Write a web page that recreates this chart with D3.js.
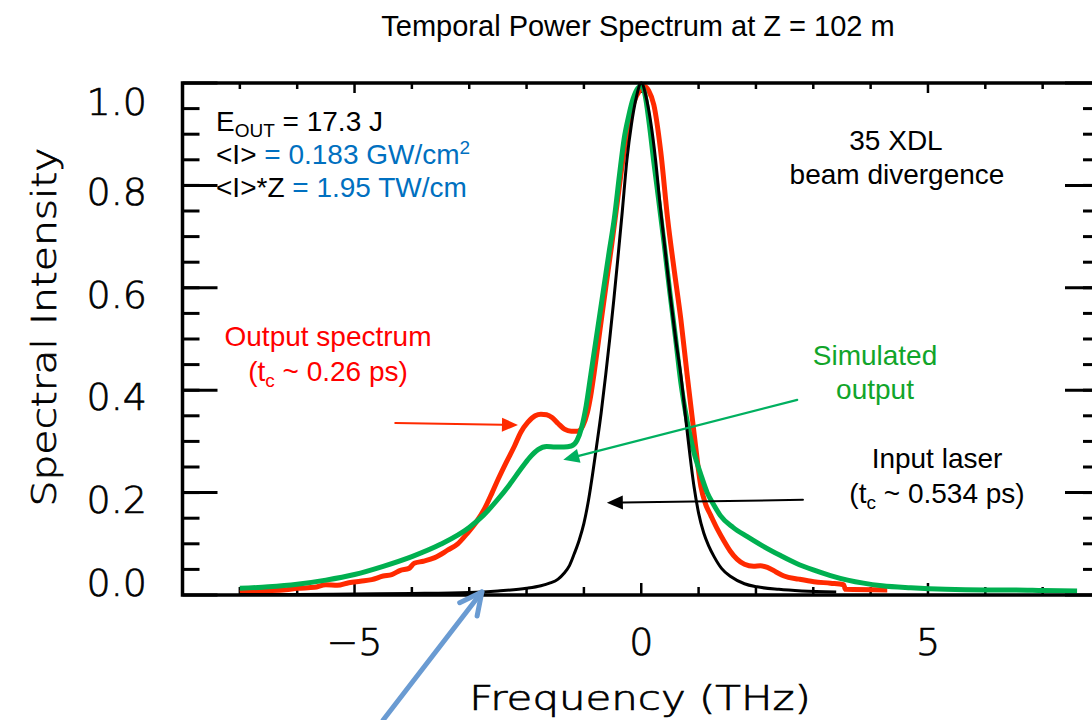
<!DOCTYPE html>
<html>
<head>
<meta charset="utf-8">
<script src="https://d3js.org/d3.v7.min.js"></script>
<style>
    body { margin: 0; background: white; }
    text { font-family: "Liberation Sans", Arial, sans-serif; }
    .tick-label, .axis-title { font-family: "DejaVu Sans", sans-serif; font-weight: 200; stroke: black; stroke-width: 0.7px; }
</style>
</head>
<body>
<svg id="chart" width="1092" height="720"></svg>
<script>
// input laser (black)
const inputFreq = [-7.0, -6.0, -5.0, -4.0, -3.0, -2.5, -2.0, -1.75, -1.6, -1.45, -1.35, -1.25, -1.17, -1.08, -1.0, -0.92, -0.85, -0.78, -0.7, -0.62, -0.55, -0.48, -0.41, -0.33, -0.25, -0.17, -0.09, 0.0, 0.09, 0.17, 0.25, 0.33, 0.41, 0.5, 0.6, 0.69, 0.8, 0.92, 1.0, 1.09, 1.18, 1.27, 1.4, 1.56, 1.8, 2.02, 2.4, 2.8, 3.4];
const inputInt = [0.001, 0.001, 0.002, 0.003, 0.005, 0.008, 0.013, 0.018, 0.023, 0.031, 0.042, 0.058, 0.08, 0.108, 0.14, 0.185, 0.235, 0.29, 0.355, 0.43, 0.5, 0.575, 0.655, 0.75, 0.85, 0.92, 0.97, 1.0, 0.97, 0.92, 0.85, 0.76, 0.68, 0.59, 0.5, 0.43, 0.32, 0.212, 0.16, 0.121, 0.095, 0.075, 0.052, 0.036, 0.022, 0.016, 0.011, 0.008, 0.006];

// measured output spectrum (red)
const outputFreq = [-7.0, -6.6, -6.2, -6.0, -5.7, -5.5, -5.3, -5.1, -4.9, -4.7, -4.5, -4.35, -4.2, -4.05, -3.96, -3.8, -3.6, -3.37, -3.2, -3.03, -2.88, -2.74, -2.6, -2.5, -2.35, -2.21, -2.1, -1.98, -1.85, -1.75, -1.65, -1.55, -1.45, -1.34, -1.22, -1.11, -1.02, -0.94, -0.88, -0.82, -0.71, -0.62, -0.52, -0.42, -0.32, -0.22, -0.12, -0.03, 0.05, 0.13, 0.22, 0.34, 0.46, 0.58, 0.69, 0.8, 0.92, 1.04, 1.12, 1.21, 1.33, 1.44, 1.55, 1.67, 1.8, 1.96, 2.08, 2.2, 2.35, 2.49, 2.75, 3.01, 3.3, 3.53, 3.56, 4.29];
const outputInt = [0.005, 0.008, 0.01, 0.013, 0.015, 0.02, 0.019, 0.024, 0.027, 0.03, 0.037, 0.04, 0.048, 0.052, 0.062, 0.066, 0.073, 0.088, 0.1, 0.121, 0.142, 0.167, 0.2, 0.225, 0.26, 0.291, 0.318, 0.337, 0.35, 0.353, 0.352, 0.346, 0.335, 0.324, 0.32, 0.32, 0.33, 0.356, 0.39, 0.435, 0.526, 0.6, 0.68, 0.765, 0.85, 0.92, 0.965, 0.985, 0.993, 0.985, 0.957, 0.866, 0.735, 0.63, 0.539, 0.43, 0.317, 0.212, 0.178, 0.156, 0.128, 0.106, 0.086, 0.07, 0.06, 0.056, 0.057, 0.054, 0.045, 0.037, 0.031, 0.026, 0.023, 0.02, 0.011, 0.01];

// simulated output (green)
const simFreq = [-7.0, -6.5, -6.0, -5.5, -5.0, -4.5, -4.0, -3.5, -3.0, -2.75, -2.5, -2.3, -2.1, -1.95, -1.8, -1.65, -1.5, -1.35, -1.22, -1.12, -1.04, -0.96, -0.88, -0.8, -0.72, -0.64, -0.56, -0.47, -0.38, -0.3, -0.22, -0.14, -0.06, 0.0, 0.06, 0.14, 0.22, 0.3, 0.4, 0.5, 0.6, 0.69, 0.8, 0.92, 1.04, 1.15, 1.27, 1.38, 1.6, 1.85, 2.1, 2.43, 2.7, 3.0, 3.3, 3.6, 4.2, 4.7, 5.3, 6.0, 6.5, 7.0, 7.6];
const simInt = [0.013, 0.016, 0.021, 0.029, 0.04, 0.056, 0.075, 0.099, 0.132, 0.156, 0.187, 0.215, 0.246, 0.268, 0.284, 0.29, 0.289, 0.289, 0.291, 0.302, 0.327, 0.37, 0.43, 0.49, 0.55, 0.61, 0.67, 0.735, 0.82, 0.89, 0.935, 0.97, 0.99, 0.995, 0.98, 0.92, 0.845, 0.775, 0.685, 0.59, 0.5, 0.415, 0.34, 0.278, 0.235, 0.2, 0.175, 0.155, 0.132, 0.114, 0.097, 0.077, 0.062, 0.049, 0.038, 0.029, 0.018, 0.014, 0.011, 0.01, 0.01, 0.009, 0.008];

// axis ticks
const yMajor = [0, 0.2, 0.4, 0.6, 0.8, 1.0];
const yMinor = d3.range(0.05, 1.0, 0.05);
const xMajor = [-5, 0, 5];
const xMinor = [-7, -6, -4, -3, -2, -1, 1, 2, 3, 4, 6, 7];

let svg = d3.select("svg#chart");

let xScale = d3.scaleLinear()
    .domain([-8, 8])
    .range([182.5, 1100]);

let yScale = d3.scaleLinear()
    .domain([0, 1])
    .range([595, 83]);

const plotLeft = xScale.range()[0], plotRight = xScale.range()[1];
const plotTop = yScale.range()[1], plotBottom = yScale.range()[0];

//title
svg.append("text")
    .attr("x", 638)
    .attr("y", 36)
    .attr("text-anchor", "middle")
    .style("font-size", "29px")
    .text("Temporal Power Spectrum at Z = 102 m");

//ticks, all pointing into the plot
let ticks = svg.append("g").attr("stroke", "black");
yMinor.forEach((d) => {
    ticks.append("line").attr("x1", plotLeft).attr("x2", plotLeft + 17)
        .attr("y1", yScale(d)).attr("y2", yScale(d)).attr("stroke-width", 3);
    ticks.append("line").attr("x1", plotRight).attr("x2", plotRight - 17)
        .attr("y1", yScale(d)).attr("y2", yScale(d)).attr("stroke-width", 3);
});
yMajor.forEach((d) => {
    ticks.append("line").attr("x1", plotLeft).attr("x2", plotLeft + 35)
        .attr("y1", yScale(d)).attr("y2", yScale(d)).attr("stroke-width", 3);
    ticks.append("line").attr("x1", plotRight).attr("x2", plotRight - 35)
        .attr("y1", yScale(d)).attr("y2", yScale(d)).attr("stroke-width", 3);
});
xMinor.forEach((d) => {
    ticks.append("line").attr("x1", xScale(d)).attr("x2", xScale(d))
        .attr("y1", plotBottom).attr("y2", plotBottom - 8).attr("stroke-width", 2.5);
    ticks.append("line").attr("x1", xScale(d)).attr("x2", xScale(d))
        .attr("y1", plotTop).attr("y2", plotTop + 6).attr("stroke-width", 2.5);
});
xMajor.forEach((d) => {
    ticks.append("line").attr("x1", xScale(d)).attr("x2", xScale(d))
        .attr("y1", plotBottom).attr("y2", plotBottom - 12).attr("stroke-width", 2.5);
    ticks.append("line").attr("x1", xScale(d)).attr("x2", xScale(d))
        .attr("y1", plotTop).attr("y2", plotTop + 10).attr("stroke-width", 2.5);
});

//tick labels (end labels are pushed inside the frame like IDL does)
yMajor.forEach((d) => {
    let base = yScale(d) + 20;
    base = Math.max(base, plotTop + 32);
    base = Math.min(base, plotBottom + 1);
    svg.append("text")
        .attr("class", "tick-label")
        .attr("x", 147)
        .attr("y", base)
        .attr("text-anchor", "end")
        .style("font-size", "38px")
        .text(d.toFixed(1));
});
xMajor.forEach((d) => {
    svg.append("text")
        .attr("class", "tick-label")
        .attr("x", xScale(d))
        .attr("y", 655)
        .attr("text-anchor", "middle")
        .style("font-size", "38px")
        .text(d < 0 ? "\u2212" + Math.abs(d) : d);
});

//axis titles
svg.append("text")
    .attr("class", "axis-title")
    .attr("transform", "translate(640,710) scale(1.27,1)")
    .attr("text-anchor", "middle")
    .style("font-size", "33px")
    .text("Frequency (THz)");

svg.append("text")
    .attr("class", "axis-title")
    .attr("transform", "translate(56,327) rotate(-90) scale(1.2,1)")
    .attr("text-anchor", "middle")
    .style("font-size", "34px")
    .text("Spectral Intensity");

//curves
let line = d3.line()
    .x((d) => xScale(d[0]))
    .y((d) => yScale(d[1]))
    .curve(d3.curveMonotoneX);

let plot = svg.append("g");
plot.append("path")
    .attr("d", line(d3.zip(outputFreq, outputInt)))
    .attr("fill", "none")
    .attr("stroke", "#ff2a00")
    .attr("stroke-width", 5);
plot.append("path")
    .attr("d", line(d3.zip(simFreq, simInt)))
    .attr("fill", "none")
    .attr("stroke", "#00b050")
    .attr("stroke-width", 5);
plot.append("path")
    .attr("d", line(d3.zip(inputFreq, inputInt)))
    .attr("fill", "none")
    .attr("stroke", "black")
    .attr("stroke-width", 3);

//frame
svg.append("path")
    .attr("d", "M" + plotRight + "," + plotTop + "H" + plotLeft + "V" + plotBottom + "H" + plotRight)
    .attr("fill", "none")
    .attr("stroke", "black")
    .attr("stroke-width", 3.5);

//arrows, positions given in data units
function arrow(f1, i1, f2, i2, color, width, headLen, headHalf, open) {
    let x1 = xScale(f1), y1 = yScale(i1), x2 = xScale(f2), y2 = yScale(i2);
    let a = Math.atan2(y2 - y1, x2 - x1);
    let bx = x2 - headLen * Math.cos(a), by = y2 - headLen * Math.sin(a);
    let px = -Math.sin(a) * headHalf, py = Math.cos(a) * headHalf;
    let g = svg.append("g");
    g.append("line")
        .attr("x1", x1).attr("y1", y1)
        .attr("x2", open ? x2 : bx).attr("y2", open ? y2 : by)
        .attr("stroke", color).attr("stroke-width", width)
        .attr("stroke-linecap", "round");
    if (open) {
        g.append("polyline")
            .attr("points", [[bx + px, by + py], [x2, y2], [bx - px, by - py]].join(" "))
            .attr("fill", "none").attr("stroke", color).attr("stroke-width", width)
            .attr("stroke-linecap", "round").attr("stroke-linejoin", "round");
    } else {
        g.append("polygon")
            .attr("points", [[bx + px, by + py], [x2, y2], [bx - px, by - py]].join(" "))
            .attr("fill", color);
    }
}
arrow(-4.29, 0.336, -2.15, 0.332, "#ff2a00", 2, 16, 7, false);
arrow(2.72, 0.381, -1.36, 0.264, "#00b060", 2.2, 16, 7, false);
arrow(2.82, 0.186, -0.6, 0.18, "black", 2, 16, 7, false);
arrow(-4.5, -0.244, -2.78, 0.006, "#6a9bd2", 5, 22, 11, true);

//annotations
const blue = "#0070c0";
let t1 = svg.append("text").attr("x", 216).attr("y", 131).style("font-size", "28px");
t1.append("tspan").text("E");
t1.append("tspan").attr("dy", 6).style("font-size", "19px").text("OUT");
t1.append("tspan").attr("dy", -6).text(" = 17.3 J");

let t2 = svg.append("text").attr("x", 216).attr("y", 164).style("font-size", "28px");
t2.append("tspan").text("<I>");
t2.append("tspan").attr("fill", blue).text(" = 0.183 GW/cm");
t2.append("tspan").attr("fill", blue).attr("dy", -10).style("font-size", "19px").text("2");

let t3 = svg.append("text").attr("x", 216).attr("y", 197).style("font-size", "28px");
t3.append("tspan").text("<I>*Z");
t3.append("tspan").attr("fill", blue).text(" = 1.95 TW/cm");

function centered(x, y, str, color) {
    return svg.append("text")
        .attr("x", x).attr("y", y)
        .attr("text-anchor", "middle")
        .attr("fill", color)
        .style("font-size", "28px")
        .text(str);
}
centered(896, 150, "35 XDL", "black");
centered(897, 184, "beam divergence", "black");
centered(328, 346, "Output spectrum", "#ff0000");
centered(875, 365, "Simulated", "#11a52a");
centered(875, 399, "output", "#11a52a");
centered(937, 468, "Input laser", "black");

function tcLabel(x, y, val, color) {
    let t = svg.append("text")
        .attr("x", x).attr("y", y)
        .attr("text-anchor", "middle")
        .attr("fill", color)
        .style("font-size", "28px");
    t.append("tspan").text("(t");
    t.append("tspan").attr("dy", 6).style("font-size", "19px").text("c");
    t.append("tspan").attr("dy", -6).text(" ~ " + val + " ps)");
}
tcLabel(328, 381, "0.26", "#ff0000");
tcLabel(937, 503, "0.534", "black");
</script>
</body>
</html>
